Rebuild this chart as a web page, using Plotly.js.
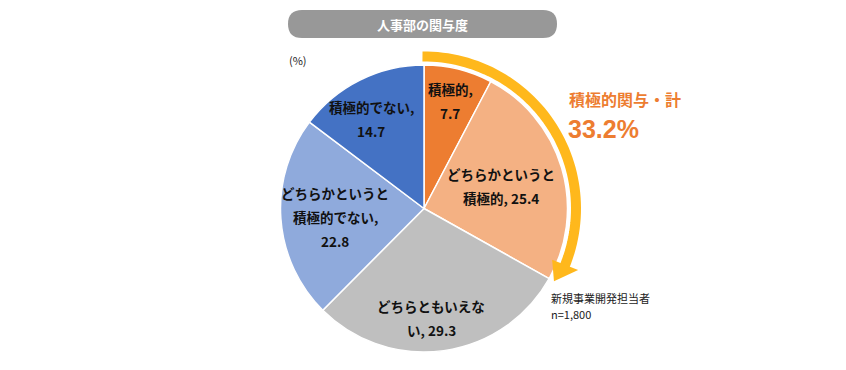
<!DOCTYPE html>
<html>
<head>
<meta charset="utf-8">
<script src="https://cdn.plot.ly/plotly-3.0.1.min.js"></script>
<style>html,body{margin:0;padding:0;background:#fff;}#chart{width:846px;height:370px;}</style>
</head>
<body>
<div id="chart"></div>
<script>
// ---- data ----
const categories = ['積極的', 'どちらかというと積極的', 'どちらともいえない', 'どちらかというと積極的でない', '積極的でない'];
const values = [7.7, 25.4, 29.3, 22.8, 14.7];
const labelLines = [
  ['積極的,', '{v}'],
  ['どちらかというと', '積極的, {v}'],
  ['どちらともいえな', 'い, {v}'],
  ['どちらかというと', '積極的でない,', '{v}'],
  ['積極的でない,', '{v}']
];
const chartTitle = '人事部の関与度';
const unitLabel = '(%)';
const activeLabel = '積極的関与・計';
const activeTotal = 33.2;
const noteLines = ['新規事業開発担当者', 'n=1,800'];

// ---- style ----
const colors = ['#ED7D31', '#F4B183', '#BFBFBF', '#8FAADC', '#4472C4'];
const W = 846, H = 370;
const cx = 424, cy = 208.5, R = 143.5;
const labelRadius = [0.77, 0.56, 0.77, 0.62, 0.70];
const labelNudgeX = [0, 0, -8, 0, -8];
const labelNudgeY = [0, 0, 0, 2, 0];
const lineGap = 24;
const font = '"Noto Sans CJK JP", "Noto Sans", sans-serif';

const px = x => x / W;
const py = y => 1 - y / H;

const annotations = [];
// slice labels
const total = values.reduce((a, b) => a + b, 0);
let cum = 0;
values.forEach((v, i) => {
  const mid = (cum + v / 2) / total * 2 * Math.PI;
  cum += v;
  const lx = cx + labelRadius[i] * R * Math.sin(mid) + labelNudgeX[i];
  const ly = cy - labelRadius[i] * R * Math.cos(mid) + labelNudgeY[i];
  const lines = labelLines[i];
  lines.forEach((t, j) => {
    annotations.push({
      x: px(lx), y: py(ly + (j - (lines.length - 1) / 2) * lineGap),
      xref: 'paper', yref: 'paper', xanchor: 'center', yanchor: 'middle',
      showarrow: false, text: '<b>' + t.replace('{v}', v.toFixed(1)) + '</b>',
      font: {family: font, size: 13.5, color: '#111'}
    });
  });
});
// title
annotations.push({x: px(422), y: py(24), xref: 'paper', yref: 'paper', xanchor: 'center', yanchor: 'middle',
  showarrow: false, text: '<b>' + chartTitle + '</b>', font: {family: font, size: 13, color: '#fff'}});
annotations.push({x: px(287), y: py(60), xref: 'paper', yref: 'paper', xanchor: 'left', yanchor: 'middle',
  showarrow: false, text: unitLabel, font: {family: font, size: 11, color: '#222'}});
annotations.push({x: px(567), y: py(99), xref: 'paper', yref: 'paper', xanchor: 'left', yanchor: 'middle',
  showarrow: false, text: '<b>' + activeLabel + '</b>', font: {family: font, size: 16, color: '#ED7D31'}});
annotations.push({x: px(566), y: py(129), xref: 'paper', yref: 'paper', xanchor: 'left', yanchor: 'middle',
  showarrow: false, text: '<b>' + activeTotal.toFixed(1) + '%</b>', font: {family: '"Liberation Sans", Arial, sans-serif', size: 25, color: '#ED7D31'}});
noteLines.forEach((t, j) => {
  annotations.push({x: px(549), y: py(298 + j * 16), xref: 'paper', yref: 'paper', xanchor: 'left', yanchor: 'middle',
    showarrow: false, text: t, font: {family: font, size: 11, color: '#222'}});
});

// shapes
const shapes = [];
// title rounded box
(function () {
  const x0 = 288, x1 = 557, y0 = 10, y1 = 38, r = 14;
  const p = (x, y) => px(x) + ',' + py(y);
  const d = 'M' + p(x0 + r, y0) + ' L' + p(x1 - r, y0) + ' Q' + p(x1, y0) + ' ' + p(x1, y0 + r) +
    ' Q' + p(x1, y1) + ' ' + p(x1 - r, y1) + ' L' + p(x0 + r, y1) + ' Q' + p(x0, y1) + ' ' + p(x0, y1 - r) +
    ' Q' + p(x0, y0) + ' ' + p(x0 + r, y0) + ' Z';
  shapes.push({type: 'path', xref: 'paper', yref: 'paper', path: d, fillcolor: '#989898', line: {width: 0}, layer: 'below'});
})();
// arc arrow spanning the active share
(function () {
  const share = (values[0] + values[1]) / total;
  const endA = share * 2 * Math.PI;
  const rr = 152, headLen = 7.5 * Math.PI / 180, half = 14;
  const pt = (a, r) => [cx + r * Math.sin(a), cy - r * Math.cos(a)];
  const bandEnd = endA - headLen;
  let d = '';
  const N = 60;
  for (let k = 0; k <= N; k++) {
    const a = -0.01 + (bandEnd + 0.02) * k / N;
    const [x, y] = pt(a, rr);
    d += (k === 0 ? 'M' : ' L') + px(x) + ',' + py(y);
  }
  shapes.push({type: 'path', xref: 'paper', yref: 'paper', path: d, line: {color: '#FFB81C', width: 10}});
  const b1 = pt(bandEnd, rr - half), b2 = pt(bandEnd, rr + half), tip = pt(endA, rr - 3);
  const d2 = 'M' + px(b1[0]) + ',' + py(b1[1]) + ' L' + px(b2[0]) + ',' + py(b2[1]) + ' L' + px(tip[0]) + ',' + py(tip[1]) + ' Z';
  shapes.push({type: 'path', xref: 'paper', yref: 'paper', path: d2, fillcolor: '#FFB81C', line: {width: 0}});
})();

const trace = {
  type: 'pie',
  labels: categories,
  values: values,
  sort: false,
  direction: 'clockwise',
  rotation: 0,
  textinfo: 'none',
  hoverinfo: 'label+value',
  marker: {colors: colors, line: {color: '#ffffff', width: 1.5}},
  domain: {x: [px(cx - R), px(cx + R)], y: [py(cy + R), py(cy - R)]},
  showlegend: false
};

const layout = {
  width: W, height: H,
  margin: {l: 0, r: 0, t: 0, b: 0},
  paper_bgcolor: '#ffffff',
  showlegend: false,
  annotations: annotations,
  shapes: shapes
};

Plotly.newPlot('chart', [trace], layout, {displayModeBar: false, staticPlot: true});
</script>
</body>
</html>
